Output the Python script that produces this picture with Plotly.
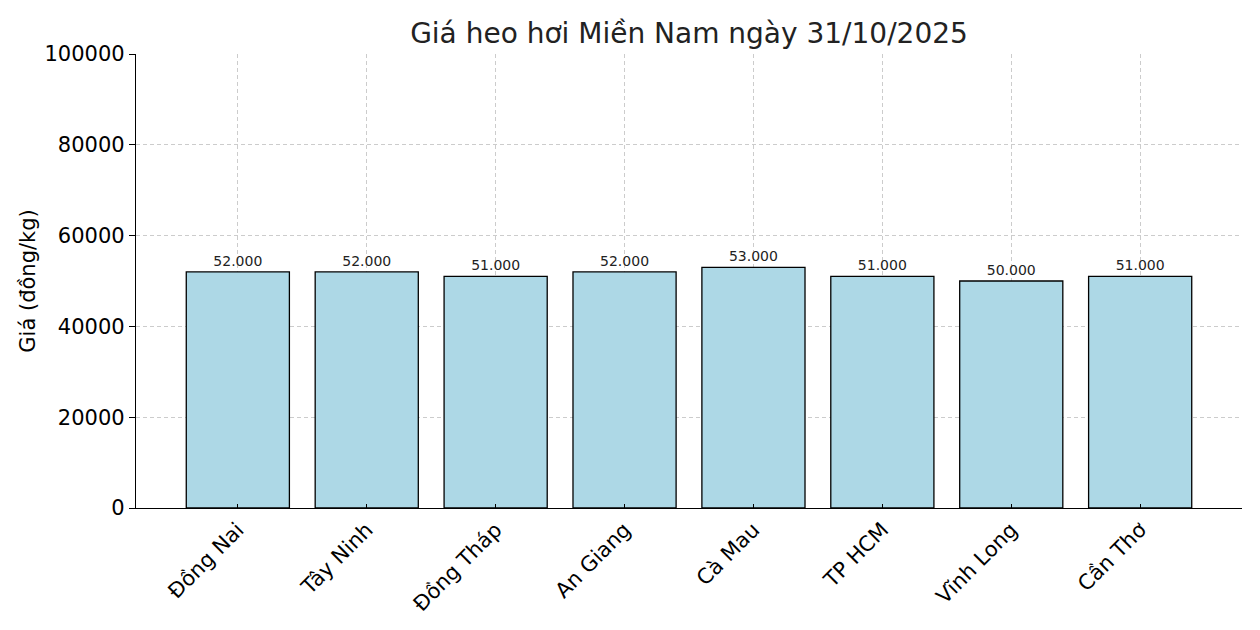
import plotly.graph_objects as go

provinces = ["Đồng Nai", "Tây Ninh", "Đồng Tháp", "An Giang", "Cà Mau", "TP HCM", "Vĩnh Long", "Cần Thơ"]
prices = [52000, 52000, 51000, 52000, 53000, 51000, 50000, 51000]
y_ticks = [0, 20000, 40000, 60000, 80000, 100000]

# nhãn kiểu Việt Nam: dấu chấm ngăn cách hàng nghìn
labels = [f"{p:,}".replace(",", ".") for p in prices]

fig = go.Figure()
fig.add_trace(go.Bar(
    x=provinces,
    y=prices,
    width=0.8,
    marker=dict(color="#ADD8E6", line=dict(color="black", width=1.3)),
    text=labels,
    textposition="outside",
    textfont=dict(size=14, color="#222222", family="DejaVu Sans"),
    cliponaxis=False,
))

fig.update_layout(
    width=1260, height=630,
    template="plotly_white",
    font=dict(family="DejaVu Sans", color="black"),
    title=dict(text="Giá heo hơi Miền Nam ngày 31/10/2025", x=0.5, xanchor="center",
               xref="paper", y=0.96, yanchor="middle", font=dict(size=28, color="#222222")),
    margin=dict(l=128, r=26, t=46, b=130),
    plot_bgcolor="white",
    paper_bgcolor="white",
    showlegend=False,
)

fig.update_xaxes(
    range=[-0.79, 7.79],
    tickangle=-45,
    tickfont=dict(size=21),
    showline=True, linecolor="black", linewidth=1.3,
    ticks="inside", ticklen=4, tickcolor="black",
    showgrid=True, gridcolor="#cccccc", griddash="4px,3px", gridwidth=1,
)
fig.update_yaxes(
    range=[0, 100000],
    tickvals=y_ticks,
    ticktext=[str(v) for v in y_ticks],
    tickfont=dict(size=21),
    title=dict(text="Giá (đồng/kg)", font=dict(size=21), standoff=3),
    showline=True, linecolor="black", linewidth=1.3,
    ticks="outside", ticklen=6, tickcolor="black",
    showgrid=True, gridcolor="#cccccc", griddash="4px,3px", gridwidth=1,
    zeroline=False,
)

fig.write_html("out.html")
